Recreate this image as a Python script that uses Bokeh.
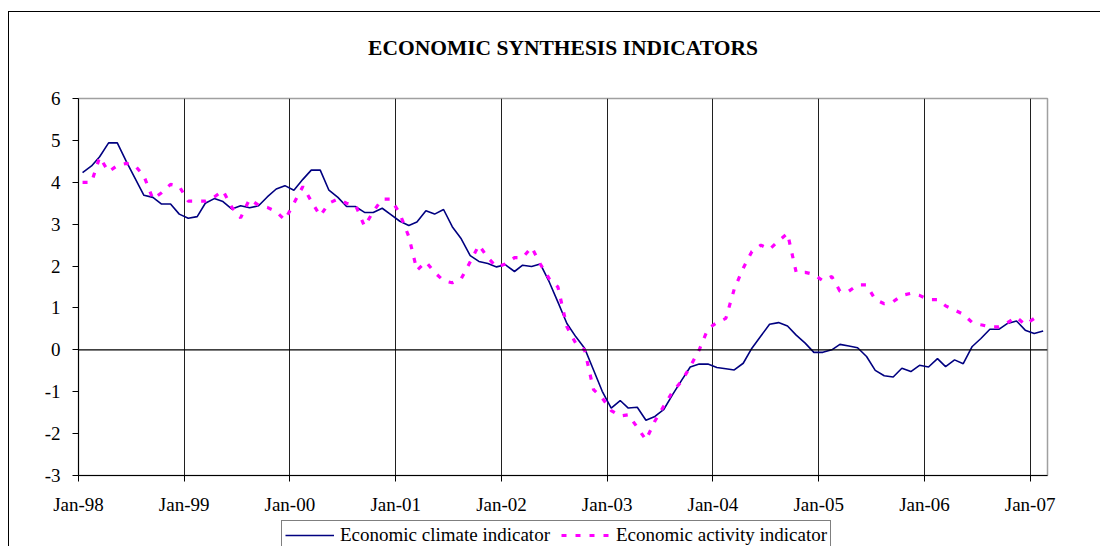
from datetime import datetime
import pandas as pd
from bokeh.plotting import figure
from bokeh.layouts import column
from bokeh.models import (Range1d, FixedTicker, DatetimeTickFormatter, Span,
                          Legend, LegendItem)
from bokeh.core.properties import value
from bokeh.embed import file_html
from bokeh.resources import INLINE

# ---------------- data ----------------
START_MONTH = "1998-01"
climate = [4.23, 4.39, 4.61, 4.94, 4.94, 4.50, 4.10, 3.69, 3.64, 3.48, 3.48, 3.24,
           3.14, 3.18, 3.50, 3.61, 3.54, 3.36, 3.44, 3.39, 3.44, 3.65, 3.84, 3.92,
           3.81, 4.07, 4.29, 4.29, 3.81, 3.64, 3.42, 3.42, 3.28, 3.28, 3.38, 3.23,
           3.07, 2.97, 3.05, 3.32, 3.24, 3.35, 2.94, 2.65, 2.25, 2.11, 2.06, 1.98,
           2.03, 1.87, 2.02, 1.99, 2.05, 1.62, 1.14, 0.63, 0.31, 0.04, -0.48, -0.99,
           -1.39, -1.21, -1.39, -1.37, -1.68, -1.59, -1.43, -1.07, -0.73, -0.41, -0.34, -0.34,
           -0.42, -0.45, -0.48, -0.32, 0.04, 0.33, 0.61, 0.65, 0.57, 0.35, 0.16, -0.06,
           -0.06, 0.00, 0.13, 0.09, 0.05, -0.16, -0.49, -0.62, -0.65, -0.44, -0.52, -0.37,
           -0.41, -0.21, -0.40, -0.24, -0.33, 0.08, 0.27, 0.49, 0.49, 0.63, 0.69, 0.47,
           0.39, 0.45]
activity = [4.00, 4.00, 4.60, 4.25, 4.40, 4.45, 4.40, 4.15, 3.60, 3.75, 3.95, 3.90,
            3.55, 3.55, 3.55, 3.65, 3.80, 3.40, 3.15, 3.60, 3.45, 3.40, 3.30, 3.10,
            3.50, 3.90, 3.55, 3.20, 3.50, 3.60, 3.50, 3.45, 2.95, 3.30, 3.60, 3.60,
            3.25, 2.70, 1.90, 2.10, 1.85, 1.65, 1.60, 1.70, 2.10, 2.50, 2.20, 1.98,
            2.05, 2.20, 2.20, 2.45, 2.05, 1.70, 1.50, 0.55, 0.15, 0.00, -0.95, -1.15,
            -1.45, -1.58, -1.55, -1.85, -2.15, -1.70, -1.35, -1.00, -0.75, -0.40, 0.00, 0.50,
            0.65, 0.75, 1.45, 1.95, 2.35, 2.50, 2.40, 2.60, 2.78, 1.85, 1.85, 1.80,
            1.65, 1.75, 1.40, 1.40, 1.55, 1.55, 1.20, 1.10, 1.15, 1.30, 1.35, 1.30,
            1.20, 1.20, 1.05, 0.95, 0.85, 0.65, 0.60, 0.55, 0.55, 0.65, 0.78, 0.60,
            0.75]
tick_years = [1998, 1999, 2000, 2001, 2002, 2003, 2004, 2005, 2006, 2007]
y_ticks = [-3, -2, -1, 0, 1, 2, 3, 4, 5, 6]
title_text = "ECONOMIC SYNTHESIS INDICATORS"
series_names = ["Economic climate indicator", "Economic activity indicator"]

# monthly values plotted at mid-month
def month_dates(n):
    return pd.date_range(start=START_MONTH + "-01", periods=n, freq="MS") + pd.Timedelta(days=14)

x_clim = month_dates(len(climate))
x_act = month_dates(len(activity))

FONT = "Liberation Serif"
W = 1091
NAVY = "#000080"
MAGENTA = "#ff00ff"
DASH = "5 9"


def bare_figure(height):
    f = figure(width=W, height=height, output_backend="svg", toolbar_location=None,
               x_range=Range1d(0, 1), y_range=Range1d(0, 1),
               x_axis_location=None, y_axis_location=None,
               min_border_left=0, min_border_right=0, min_border_top=0, min_border_bottom=0)
    f.outline_line_color = None
    f.grid.grid_line_color = None
    f.background_fill_color = "white"
    f.border_fill_color = "white"
    return f


# ---------------- title strip (frame aligned with the chart frame) ----------------
H0 = 70
p0 = bare_figure(H0)
p0.text(x=[0.5], y=[0.5], text=[title_text], text_align="center",
        text_baseline="middle", text_font=value(FONT), text_font_size="21.5px",
        text_font_style="bold", text_color="black")

# ---------------- main chart ----------------
p = figure(width=W, height=435, output_backend="svg", toolbar_location=None,
           x_axis_type="datetime",
           x_range=Range1d(datetime(1998, 1, 1), datetime(2007, 3, 2)),
           y_range=Range1d(-3, 6),
           min_border_left=69, min_border_right=53, min_border_top=16, min_border_bottom=41)
p.outline_line_color = "#a0a0a0"
p.outline_line_width = 1.5
p.background_fill_color = "white"
p.border_fill_color = "white"

year_ms = [pd.Timestamp(f"{y}-01-01").value // 10**6 for y in tick_years]
p.xaxis.ticker = FixedTicker(ticks=year_ms)
p.xaxis.formatter = DatetimeTickFormatter(years="%b-%y", months="%b-%y", days="%b-%y",
                                          hours="%b-%y", minutes="%b-%y", seconds="%b-%y",
                                          milliseconds="%b-%y", microseconds="%b-%y")
p.yaxis.ticker = FixedTicker(ticks=y_ticks)
p.yaxis.major_label_overrides = {v: str(v) for v in y_ticks}

for ax in (p.xaxis, p.yaxis):
    ax.axis_line_color = "black"
    ax.axis_line_width = 1
    ax.major_tick_line_color = "black"
    ax.major_tick_out = 6
    ax.major_tick_in = 0
    ax.minor_tick_line_color = None
    ax.major_label_text_font = FONT
    ax.major_label_text_font_size = "19px"
    ax.major_label_text_color = "black"
p.xaxis.major_label_standoff = 12
p.yaxis.major_label_standoff = 12

p.xgrid.ticker = FixedTicker(ticks=year_ms)
p.xgrid.grid_line_color = "#202020"
p.xgrid.grid_line_width = 1
p.ygrid.grid_line_color = None

p.add_layout(Span(location=0, dimension="width", line_color="black", line_width=1.3))

p.line(x_clim, climate, line_color=NAVY, line_width=1.6)
p.line(x_act, activity, line_color=MAGENTA, line_width=3.2, line_dash=DASH)

# ---------------- legend strip ----------------
H2 = 29
p2 = bare_figure(H2)
nan = float("nan")
g1 = p2.line(x=[nan], y=[nan], line_color=NAVY, line_width=1.6)
g2 = p2.line(x=[nan], y=[nan], line_color=MAGENTA, line_width=3.2, line_dash=DASH)
legend = Legend(items=[LegendItem(label=series_names[0], renderers=[g1]),
                       LegendItem(label=series_names[1], renderers=[g2])],
                orientation="horizontal", location=(203, -4))
legend.label_text_font = FONT
legend.label_text_font_size = "19px"
legend.label_text_line_height = 1.0
legend.label_text_color = "black"
legend.label_height = 20
legend.glyph_width = 49
legend.glyph_height = 20
legend.label_standoff = 6
legend.spacing = 11
legend.padding = 3
legend.margin = 0
legend.border_line_color = "black"
legend.border_line_width = 1
legend.background_fill_color = "white"
legend.background_fill_alpha = 1
p2.add_layout(legend)

layout = column(p0, p, p2, spacing=0,
                styles={"margin-top": "11px", "margin-left": "8px",
                        "border-top": "1px solid black", "border-left": "1px solid black"})

open("out.html", "w").write(file_html(layout, INLINE))
